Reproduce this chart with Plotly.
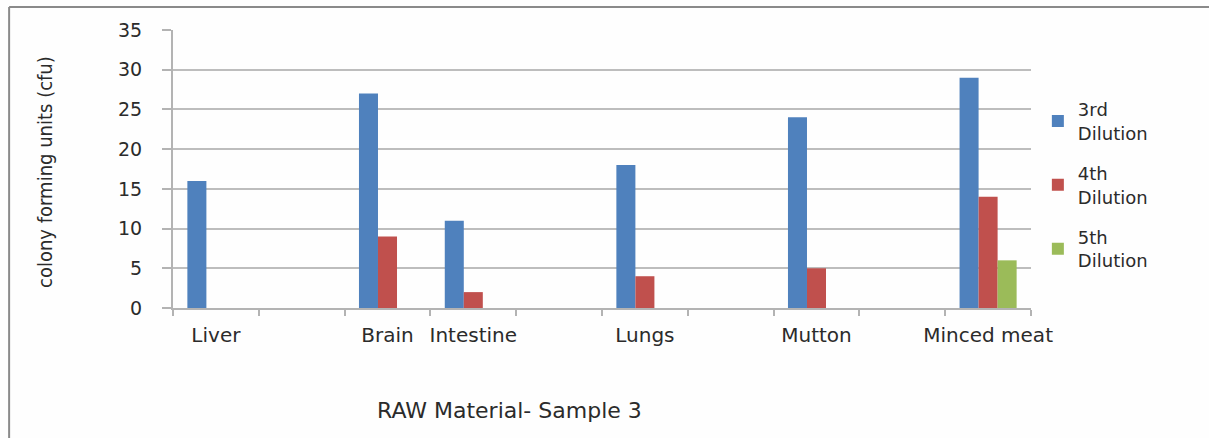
import plotly.graph_objects as go

# Category slots (Excel chart has blank slots between samples)
categories = ["Liver", "", "Brain", "Intestine", "", "Lungs", "", "Mutton", "", "Minced meat"]
series_names = ["3rd<br>Dilution", "4th<br>Dilution", "5th<br>Dilution"]
dil3 = [16, None, 27, 11, None, 18, None, 24, None, 29]
dil4 = [0, None, 9, 2, None, 4, None, 5, None, 14]
dil5 = [0, None, 0, 0, None, 0, None, 0, None, 6]
colors = ["#4F81BD", "#C0504D", "#9BBB59"]
y_ticks = [0, 5, 10, 15, 20, 25, 30, 35]

x_idx = list(range(len(categories)))
text_color = "#2b2b2b"
font_main = "DejaVu Sans"

fig = go.Figure()
for i, (name, vals, col) in enumerate(zip(series_names, [dil3, dil4, dil5], colors)):
    fig.add_trace(go.Bar(
        x=x_idx, y=vals, name=name, legendgroup=f"g{i}",
        marker=dict(color=col, line=dict(width=0)),
    ))

fig.update_layout(
    width=1209, height=438,
    margin=dict(l=173, r=178, t=30, b=130),
    paper_bgcolor="#fefefe", plot_bgcolor="#fefefe",
    barmode="group", bargap=0.335, bargroupgap=0,
    font=dict(family=font_main, color=text_color, size=18),
    showlegend=True,
    legend=dict(
        x=1.008, xanchor="left", y=0.78, yanchor="top",
        traceorder="grouped",
        font=dict(family=font_main, size=18, color=text_color),
        tracegroupgap=14, bgcolor="rgba(0,0,0,0)",
        itemwidth=30,
    ),
)

fig.update_xaxes(
    range=[-0.5, len(categories) - 0.5],
    tickmode="array", tickvals=x_idx, ticktext=categories,
    ticks="", showgrid=False, zeroline=False,
    showline=True, linecolor="#b3b3b3", linewidth=2,
    ticklabelstandoff=8,
    tickfont=dict(family=font_main, size=20, color=text_color),
    minor=dict(tickvals=[i - 0.5 for i in range(len(categories) + 1)],
               ticks="outside", ticklen=6, tickcolor="#b3b3b3", tickwidth=2,
               showgrid=False),
)
fig.update_yaxes(
    range=[0, 35], tickmode="array", tickvals=y_ticks,
    ticks="outside", ticklen=9, tickcolor="#b3b3b3", tickwidth=2,
    showgrid=True, gridcolor="#bdbdbd", gridwidth=2,
    zeroline=False, showline=True, linecolor="#b3b3b3", linewidth=2,
    ticklabelstandoff=16,
    tickfont=dict(family=font_main, size=19, color=text_color),
)

# Axis titles
fig.add_annotation(
    text="colony forming units (cfu)", textangle=-90,
    xref="paper", yref="paper", x=-0.149, y=0.49,
    xanchor="center", yanchor="middle", showarrow=False,
    font=dict(family="Liberation Sans Narrow, DejaVu Sans Condensed, Liberation Sans", size=20, color=text_color),
)
fig.add_annotation(
    text="RAW Material- Sample 3",
    xref="paper", yref="paper", x=0.392, y=-0.37,
    xanchor="center", yanchor="middle", showarrow=False,
    font=dict(family=font_main, size=22, color=text_color),
)

# Outer frame lines (chart border)
fig.add_shape(type="line", xref="paper", yref="paper",
              x0=-0.191, x1=1.21, y0=1.083, y1=1.083,
              line=dict(color="#8a8a8a", width=2))
fig.add_shape(type="line", xref="paper", yref="paper",
              x0=-0.191, x1=-0.191, y0=1.083, y1=-0.48,
              line=dict(color="#8a8a8a", width=2))

fig.write_html("out.html", config={"displayModeBar": False},
               post_script="document.body.style.margin='0';")
